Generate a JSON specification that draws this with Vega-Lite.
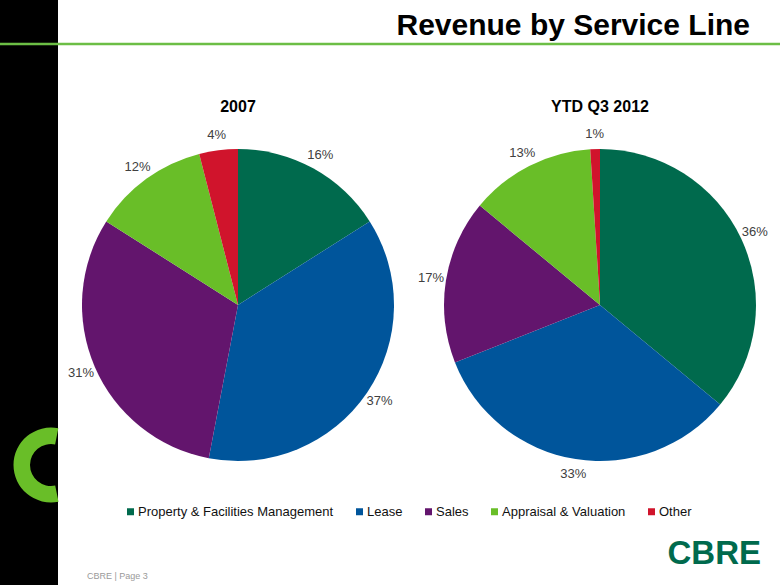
{
  "$schema": "https://vega.github.io/schema/vega-lite/v6.json",
  "width": 780,
  "height": 585,
  "autosize": "none",
  "padding": 0,
  "background": "white",
  "config": {
    "view": {"stroke": null},
    "font": "Liberation Sans",
    "legend": {
      "orient": "none",
      "legendX": 124,
      "legendY": 505,
      "direction": "horizontal",
      "symbolType": "square",
      "symbolSize": 49,
      "symbolStrokeWidth": 0,
      "labelFontSize": 13,
      "labelFont": "Liberation Sans",
      "labelColor": "#111111",
      "labelOffset": 1,
      "labelLimit": 0,
      "columnPadding": 19
    }
  },
  "data": {
    "values": [
      {"period": "2007", "line": "Property & Facilities Management", "share": 0.16},
      {"period": "2007", "line": "Lease", "share": 0.37},
      {"period": "2007", "line": "Sales", "share": 0.31},
      {"period": "2007", "line": "Appraisal & Valuation", "share": 0.12},
      {"period": "2007", "line": "Other", "share": 0.04},
      {"period": "YTD Q3 2012", "line": "Property & Facilities Management", "share": 0.36},
      {"period": "YTD Q3 2012", "line": "Lease", "share": 0.33},
      {"period": "YTD Q3 2012", "line": "Sales", "share": 0.17},
      {"period": "YTD Q3 2012", "line": "Appraisal & Valuation", "share": 0.13},
      {"period": "YTD Q3 2012", "line": "Other", "share": 0.01}
    ]
  },
  "layer": [
    {
      "data": {"values": [{}]},
      "mark": {"type": "rect", "x": 0, "x2": 58, "y": 0, "y2": 585, "fill": "#000000"},
      "encoding": {}
    },
    {
      "data": {"values": [{}]},
      "mark": {"type": "arc", "x": 51, "y": 465, "radius": 37.5, "radius2": 21, "theta": 2.94, "theta2": 6.48, "fill": "#69BE28"},
      "encoding": {}
    },
    {
      "data": {"values": [{}]},
      "mark": {"type": "rect", "x": 0, "x2": 780, "y": 42.8, "y2": 45.2, "fill": "#6CBE45"},
      "encoding": {}
    },
    {
      "data": {"values": [{}]},
      "mark": {"type": "text", "text": "Revenue by Service Line", "x": 750, "y": 35, "align": "right", "baseline": "alphabetic", "fontSize": 30, "fontWeight": "bold", "fill": "#000000"},
      "encoding": {}
    },
    {
      "data": {"values": [{}]},
      "mark": {"type": "text", "text": "CBRE", "x": 761, "y": 564, "align": "right", "baseline": "alphabetic", "fontSize": 33, "fontWeight": "bold", "fill": "#006A4D"},
      "encoding": {}
    },
    {
      "data": {"values": [{}]},
      "mark": {"type": "text", "text": "CBRE  |  Page 3", "x": 87, "y": 576, "align": "left", "baseline": "middle", "fontSize": 9, "fill": "#9a9a9a"},
      "encoding": {}
    },
    {
      "transform": [
        {"filter": "datum.period === '2007'"},
        {"window": [{"op": "row_number", "as": "rank"}]}
      ],
      "mark": {"type": "arc", "radius": 156},
      "encoding": {
        "x": {"field": "period", "type": "nominal", "scale": {"type": "point", "domain": ["2007", "YTD Q3 2012"], "range": [238, 600], "padding": 0}, "axis": null},
        "y": {"field": "period", "type": "nominal", "scale": {"type": "point", "domain": ["2007", "YTD Q3 2012"], "range": [305, 305], "padding": 0}, "axis": null},
        "theta": {"field": "share", "type": "quantitative", "stack": true},
        "order": {"field": "rank", "type": "quantitative"},
        "color": {
          "field": "line",
          "type": "nominal",
          "title": null,
          "scale": {
            "domain": ["Property & Facilities Management", "Lease", "Sales", "Appraisal & Valuation", "Other"],
            "range": ["#006A4D", "#00559B", "#63156D", "#69BE28", "#D0142C"]
          }
        }
      }
    },
    {
      "transform": [
        {"filter": "datum.period === 'YTD Q3 2012'"},
        {"window": [{"op": "row_number", "as": "rank"}]}
      ],
      "mark": {"type": "arc", "radius": 156},
      "encoding": {
        "x": {"field": "period", "type": "nominal", "axis": null},
        "y": {"field": "period", "type": "nominal", "axis": null},
        "theta": {"field": "share", "type": "quantitative", "stack": true},
        "order": {"field": "rank", "type": "quantitative"},
        "color": {"field": "line", "type": "nominal", "title": null}
      }
    },
    {
      "transform": [
        {"filter": "datum.period === '2007'"},
        {"window": [{"op": "row_number", "as": "rank"}]}
      ],
      "mark": {"type": "text", "radius": 171, "fontSize": 13, "fill": "#404040"},
      "encoding": {
        "x": {"field": "period", "type": "nominal", "axis": null},
        "y": {"field": "period", "type": "nominal", "axis": null},
        "theta": {"field": "share", "type": "quantitative", "stack": true},
        "order": {"field": "rank", "type": "quantitative"},
        "text": {"field": "share", "type": "quantitative", "format": ".0%"}
      }
    },
    {
      "transform": [
        {"filter": "datum.period === 'YTD Q3 2012'"},
        {"window": [{"op": "row_number", "as": "rank"}]}
      ],
      "mark": {"type": "text", "radius": 171, "fontSize": 13, "fill": "#404040"},
      "encoding": {
        "x": {"field": "period", "type": "nominal", "axis": null},
        "y": {"field": "period", "type": "nominal", "axis": null},
        "theta": {"field": "share", "type": "quantitative", "stack": true},
        "order": {"field": "rank", "type": "quantitative"},
        "text": {"field": "share", "type": "quantitative", "format": ".0%"}
      }
    },
    {
      "transform": [
        {"aggregate": [{"op": "count", "as": "n"}], "groupby": ["period"]}
      ],
      "mark": {"type": "text", "dy": -193, "baseline": "alphabetic", "fontSize": 16, "fontWeight": "bold", "fill": "#000000"},
      "encoding": {
        "x": {"field": "period", "type": "nominal", "axis": null},
        "y": {"field": "period", "type": "nominal", "axis": null},
        "text": {"field": "period", "type": "nominal"}
      }
    }
  ]
}
